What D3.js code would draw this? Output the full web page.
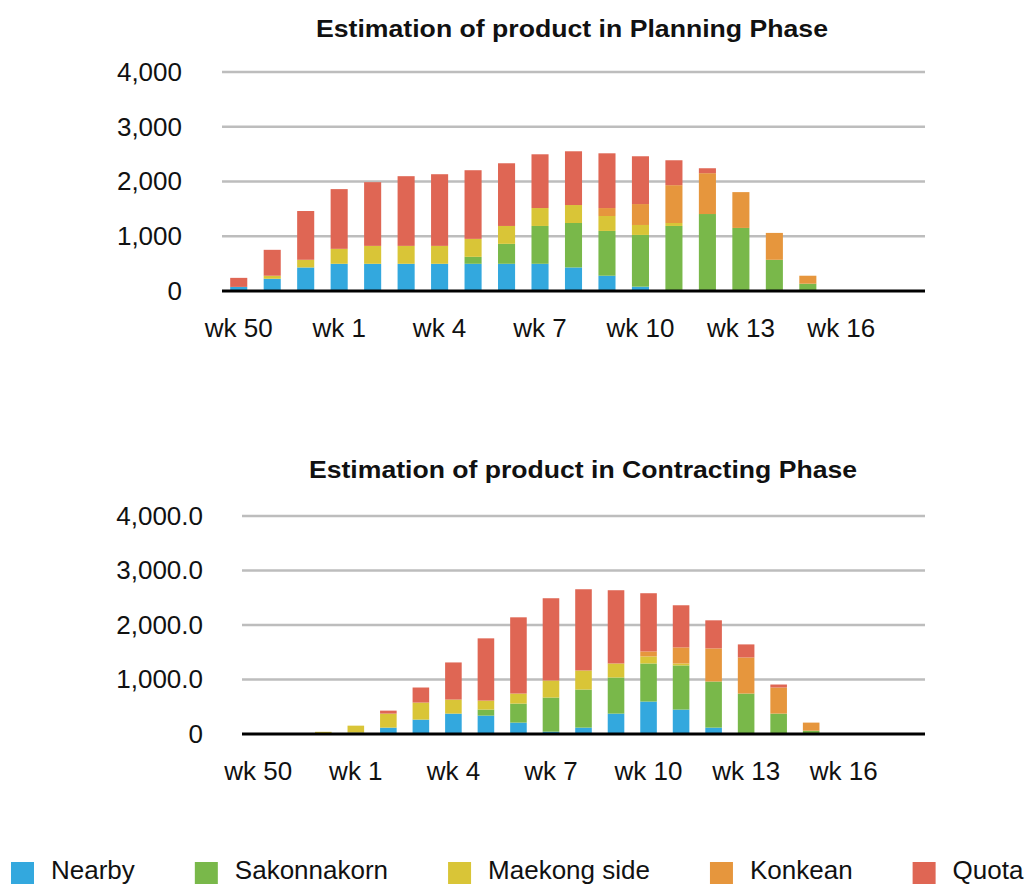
<!DOCTYPE html>
<html><head><meta charset="utf-8">
<script src="https://cdn.jsdelivr.net/npm/d3@7"></script>
<style>
html,body{margin:0;padding:0;background:#fff;}
svg{display:block;font-family:"Liberation Sans",Arial,Helvetica,sans-serif;}
</style></head>
<body>
<svg id="chart" width="1033" height="885"></svg>
<script>
// ---- data ----
const weeks = ["wk 50","wk 51","wk 52","wk 1","wk 2","wk 3","wk 4","wk 5","wk 6","wk 7","wk 8","wk 9","wk 10","wk 11","wk 12","wk 13","wk 14","wk 15","wk 16","wk 17","wk 18"];
const seriesNames = ["Nearby","Sakonnakorn","Maekong side","Konkean","Quota"];
const seriesColors = ["#33a8de","#79b84a","#d9c537","#e6963d","#df6654"];
const yTicks = [0,1000,2000,3000,4000];

// Planning phase
const planNearby   = [75,224,430,497,497,497,497,497,497,497,430,279,79,0,0,0,0,0,0,0,0];
const planSakon    = [0,0,0,0,0,0,0,127,364,691,812,818,945,1188,1406,1152,570,133,0,0,0];
const planMaekong  = [0,55,140,273,327,327,327,328,327,327,328,273,182,54,0,0,0,0,0,0,0];
const planKonkean  = [0,0,0,0,0,0,0,0,0,0,0,145,382,691,746,654,491,146,0,0,0];
const planQuota    = [165,473,891,1091,1164,1273,1309,1254,1145,982,982,1000,873,455,90,0,0,0,0,0,0];

// Contracting phase
const conNearby    = [0,0,0,25,117,264,374,337,209,43,117,374,595,448,117,0,0,0,0,0,0];
const conSakon     = [0,0,0,0,0,0,0,111,349,626,699,663,699,810,846,742,374,61,0,0,0];
const conMaekong   = [0,0,40,128,257,313,258,165,184,313,350,257,129,36,0,0,0,0,0,0,0];
const conKonkean   = [0,0,0,0,0,0,0,0,0,0,0,0,92,295,608,663,479,148,0,0,0];
const conQuota     = [0,0,0,0,55,276,681,1142,1399,1509,1490,1344,1068,773,515,239,55,0,0,0,0];

// ---- drawing ----
const svg = d3.select("#chart");
const color = d3.scaleOrdinal().domain(seriesNames).range(seriesColors);

function buildRows(arrs){
  return weeks.map((w,i)=>{
    const r = {week:w};
    seriesNames.forEach((s,k)=>{ r[s]=arrs[k][i]; });
    return r;
  });
}

function drawChart(cfg){
  const g = svg.append("g");
  const x = d3.scaleBand().domain(weeks).range([cfg.left,cfg.right]).paddingInner(0.49).paddingOuter(0.245);
  const y = d3.scaleLinear().domain([0,4000]).range([cfg.bottom,cfg.top]);

  // title
  g.append("text").attr("x",cfg.titleX).attr("y",cfg.titleY)
    .attr("text-anchor","middle").attr("dominant-baseline","central")
    .attr("font-weight","bold").attr("font-size",24).attr("fill","#111")
    .attr("textLength",cfg.titleW).attr("lengthAdjust","spacingAndGlyphs")
    .text(cfg.title);

  // gridlines
  g.selectAll("line.grid").data(yTicks.filter(d=>d>0)).join("line")
    .attr("x1",cfg.left).attr("x2",cfg.right)
    .attr("y1",d=>y(d)).attr("y2",d=>y(d))
    .attr("stroke","#bdbdbd").attr("stroke-width",2.5);

  // y axis labels
  const yAxis = d3.axisLeft(y).tickValues(yTicks).tickSize(0).tickPadding(0).tickFormat(cfg.fmt);
  const ya = g.append("g").attr("transform",`translate(${cfg.labelRight},0)`).call(yAxis);
  ya.select(".domain").remove();
  ya.selectAll("text").attr("font-size",26).attr("fill","#111").attr("font-family","Liberation Sans, Arial, sans-serif");

  // stacks
  const stack = d3.stack().keys(seriesNames);
  const layers = stack(buildRows(cfg.data));
  g.selectAll("g.layer").data(layers).join("g").attr("fill",d=>color(d.key))
    .selectAll("rect").data(d=>d).join("rect")
    .attr("x",d=>x(d.data.week)).attr("width",x.bandwidth())
    .attr("y",d=>y(d[1])).attr("height",d=>Math.max(0,y(d[0])-y(d[1])));

  // baseline
  g.append("line").attr("x1",cfg.left).attr("x2",cfg.right)
    .attr("y1",y(0)).attr("y2",y(0)).attr("stroke","#000").attr("stroke-width",3);

  // x axis labels (every 3rd)
  const xAxis = d3.axisBottom(x).tickValues(weeks.filter((w,i)=>i%3===0)).tickSize(0).tickPadding(0);
  const xa = g.append("g").attr("transform",`translate(0,${cfg.xLabelY})`).call(xAxis);
  xa.select(".domain").remove();
  xa.selectAll("text").attr("font-size",26).attr("fill","#111").attr("dy",null)
    .attr("dominant-baseline","central").attr("font-family","Liberation Sans, Arial, sans-serif");
}

drawChart({
  title:"Estimation of product in Planning Phase", titleX:572, titleY:28, titleW:512,
  left:222, right:925, top:72, bottom:291, labelRight:182, xLabelY:328,
  fmt:d3.format(","),
  data:[planNearby,planSakon,planMaekong,planKonkean,planQuota]
});
drawChart({
  title:"Estimation of product in Contracting Phase", titleX:583, titleY:469, titleW:548,
  left:242, right:925, top:516, bottom:734, labelRight:203, xLabelY:771,
  fmt:d=> d===0 ? "0" : d3.format(",.1f")(d),
  data:[conNearby,conSakon,conMaekong,conKonkean,conQuota]
});

// legend
const leg = svg.append("g").attr("class","legend");
let lx = 11;
seriesNames.forEach(s=>{
  leg.append("rect").attr("x",lx).attr("y",862).attr("width",23).attr("height",22).attr("fill",color(s));
  const t = leg.append("text").attr("x",lx+40).attr("y",879)
    .attr("font-size",26).attr("fill","#111").text(s);
  lx = lx + 40 + t.node().getComputedTextLength() + 60;
});
</script>
</body></html>
